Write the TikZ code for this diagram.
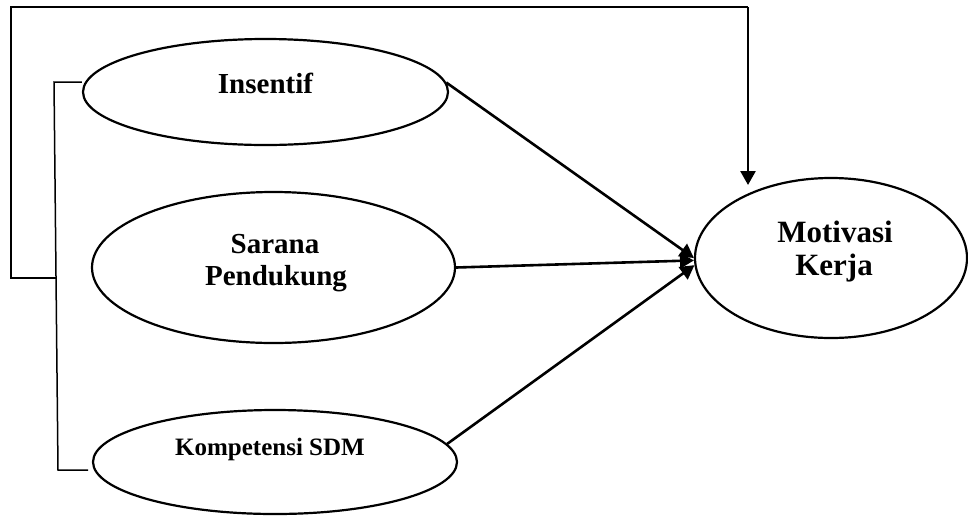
\documentclass[tikz,border=0pt]{standalone}
\usepackage{fontspec}
\setmainfont{Liberation Serif}
\usetikzlibrary{arrows.meta,shapes.geometric}

\tikzset{
  oval/.style={draw=black, line width=2.2pt, ellipse, inner sep=0pt, fill=white},
  lbl/.style={inner sep=0pt, anchor=base, font=\bfseries},
  link/.style={draw=black, line width=2.6pt, -{Triangle[length=14pt,width=15pt]}},
  frame/.style={draw=black, line width=1.5pt},
}

\begin{document}
\begin{tikzpicture}[x=1pt, y=-1pt]
  \useasboundingbox[fill=white] (0,0) rectangle (968,531);

  % variable ovals
  \node[oval, minimum width=365pt, minimum height=106pt] (ins) at (265.5,92) {};
  \node[oval, minimum width=363pt, minimum height=151pt] (sar) at (273.5,267.5) {};
  \node[oval, minimum width=364pt, minimum height=104pt] (kom) at (275,462) {};
  \node[oval, minimum width=272pt, minimum height=160pt] (mot) at (831,258) {};

  % labels
  \node[lbl, font=\fontsize{29}{32}\selectfont\bfseries] (insT) at (265.5,93) {Insentif};
  \node[lbl, font=\fontsize{29}{32}\selectfont\bfseries] (sarT1) at (275,253) {Sarana};
  \node[lbl, font=\fontsize{29}{32}\selectfont\bfseries] (sarT2) at (276,285) {Pendukung};
  \node[lbl, font=\fontsize{25}{28}\selectfont\bfseries] (komT) at (270,455) {Kompetensi SDM};
  \node[lbl, font=\fontsize{31}{34}\selectfont\bfseries] (motT1) at (835,242) {Motivasi};
  \node[lbl, font=\fontsize{31}{34}\selectfont\bfseries] (motT2) at (834,275) {Kerja};

  % bracket grouping the three variables
  \coordinate (bTop) at (54,82);
  \coordinate (bBot) at (58,470);
  \coordinate (bMid) at (55.5,278);
  \coordinate (oLeftBot) at (11,278);
  \coordinate (oLeftTop) at (11,7);
  \coordinate (oRightTop) at (748,7);
  \coordinate (oTip) at (748,185);
  \draw[frame] (ins.west |- bTop) -- (bTop) -- (bBot) -- (88,470);

  % joint influence path
  \draw[frame] (bMid) -- (oLeftBot) -- (oLeftTop) -- (oRightTop);
  \draw[link] (oRightTop) -- (oTip);

  % partial influence arrows
  \draw[link] (ins.3) -- (mot.180);
  \draw[link] (sar.0) -- (mot.181);
  \draw[link] (kom.6) -- (mot.183);
\end{tikzpicture}
\end{document}
